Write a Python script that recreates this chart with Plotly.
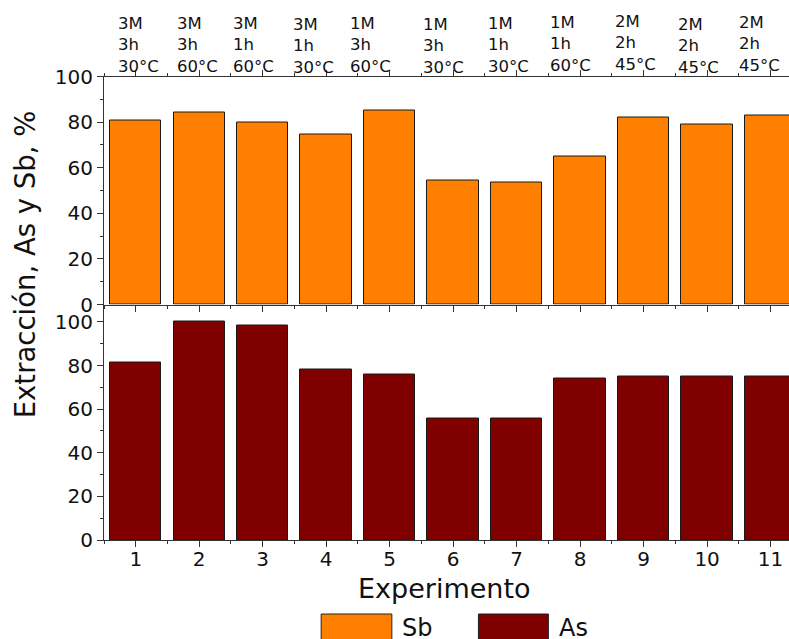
import plotly.graph_objects as go

# Experiment numbers and extraction results (%)
experimentos = [1, 2, 3, 4, 5, 6, 7, 8, 9, 10, 11]
sb_extraccion = [80.5, 84.0, 80.0, 74.7, 85.2, 54.2, 53.3, 65.0, 82.1, 79.0, 83.0]
as_extraccion = [81.2, 100.0, 98.3, 78.0, 75.8, 55.6, 55.6, 74.1, 75.0, 75.0, 75.0]

# Conditions of each experiment: concentration, time, temperature
concentracion = ["3M", "3M", "3M", "3M", "1M", "1M", "1M", "1M", "2M", "2M", "2M"]
tiempo = ["3h", "3h", "1h", "1h", "3h", "3h", "1h", "1h", "2h", "2h", "2h"]
temperatura = ["30°C", "60°C", "60°C", "30°C", "60°C", "30°C", "30°C", "60°C", "45°C", "45°C", "45°C"]

W, H = 789, 639
ML = 103.75  # left margin in pixels; other margins are zero
FONT = "DejaVu Sans"
SB_COLOR = "#FF8000"
AS_COLOR = "#800000"
AXIS_COLOR = "#333333"


def py(p):
    """pixel row -> paper fraction"""
    return 1 - p / H


def px(p):
    """pixel column -> paper fraction (paper starts after the left margin)"""
    return (p - ML) / (W - ML)


fig = go.Figure()

fig.add_trace(go.Bar(
    x=experimentos, y=sb_extraccion, name="Sb",
    marker=dict(color=SB_COLOR, line=dict(color="#1a1a1a", width=1)),
    width=0.81, xaxis="x2", yaxis="y2", showlegend=False,
))
fig.add_trace(go.Bar(
    x=experimentos, y=as_extraccion, name="As",
    marker=dict(color=AS_COLOR, line=dict(color="#1a1a1a", width=1)),
    width=0.81, xaxis="x", yaxis="y", showlegend=False,
))

tickfont = dict(family=FONT, size=20, color="#111")
xrange = [0.5, 11.29]

common_x = dict(
    range=xrange, showline=True, linecolor=AXIS_COLOR, linewidth=1,
    ticks="outside", ticklen=6, tickcolor=AXIS_COLOR, tickwidth=1,
    tickvals=experimentos, showgrid=False, zeroline=False, automargin=False,
    minor=dict(ticks="outside", ticklen=3, dtick=0.5, tick0=0.5,
               tickcolor=AXIS_COLOR, showgrid=False),
)
common_y = dict(
    showline=True, linecolor=AXIS_COLOR, linewidth=1,
    ticks="outside", ticklen=6, tickcolor=AXIS_COLOR, tickwidth=1,
    tick0=0, dtick=20, showgrid=False, zeroline=False, tickfont=tickfont,
    automargin=False,
    minor=dict(ticks="outside", ticklen=3, dtick=10, tick0=0,
               tickcolor=AXIS_COLOR, showgrid=False),
)

fig.update_layout(
    template="none",
    width=W, height=H, autosize=False,
    margin=dict(l=ML, r=0, t=0, b=0, pad=0),
    paper_bgcolor="white", plot_bgcolor="white",
    font=dict(family=FONT, color="#111"),
    bargap=0, showlegend=False,
    xaxis=dict(anchor="y", domain=[0, 1], tickfont=tickfont,
               ticklabelstandoff=-5, **common_x),
    xaxis2=dict(anchor="y2", domain=[0, 1], matches="x", showticklabels=False,
                mirror="ticks", **common_x),
    yaxis=dict(anchor="x", domain=[py(540), py(304.5)], range=[0, 108], **common_y),
    yaxis2=dict(anchor="x2", domain=[py(304.5), py(76.5)], range=[0, 100], **common_y),
)

# Experimental condition labels above the upper panel
label_left = [117, 176, 232, 292, 349, 421.7, 486.7, 549, 614, 677, 738]
label_mid = [44.5, 44.5, 44.5, 46, 44.5, 46, 44.5, 44, 42.7, 46, 43.7]
for c, t, temp, lx, ly in zip(concentracion, tiempo, temperatura, label_left, label_mid):
    fig.add_annotation(
        text=f"{c}<br>{t}<br>{temp}", xref="paper", yref="paper",
        x=px(lx - 1), y=py(ly), xanchor="left", yanchor="middle", align="left",
        showarrow=False, font=dict(family=FONT, size=16.5, color="#111"),
    )

# Axis titles
fig.add_annotation(
    text="Extracción, As y Sb, %", xref="paper", yref="paper",
    x=px(25), y=py(264), xanchor="center", yanchor="middle", textangle=-90,
    showarrow=False, font=dict(family=FONT, size=27.5, color="#111"),
)
fig.add_annotation(
    text="Experimento", xref="paper", yref="paper",
    x=px(444.5), y=py(588), xanchor="center", yanchor="middle",
    showarrow=False, font=dict(family=FONT, size=27, color="#111"),
)

# Legend drawn as large swatches under the chart
legend_items = [("Sb", SB_COLOR, 321, 391.7, 400), ("As", AS_COLOR, 478.3, 548.3, 557)]
for name, color, x0, x1, tx in legend_items:
    fig.add_shape(
        type="rect", xref="paper", yref="paper",
        x0=px(x0), x1=px(x1), y0=py(645), y1=py(614),
        fillcolor=color, line=dict(color="#222", width=1),
    )
    fig.add_annotation(
        text=name, xref="paper", yref="paper",
        x=px(tx), y=py(628), xanchor="left", yanchor="middle",
        showarrow=False, font=dict(family=FONT, size=24, color="#111"),
    )

fig.write_html("out.html")
